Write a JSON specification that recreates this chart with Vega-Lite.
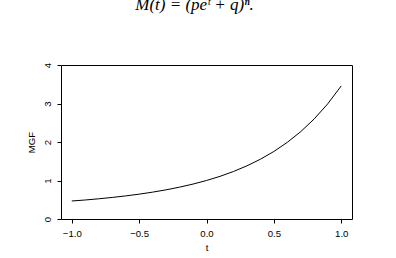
{
  "$schema": "https://vega.github.io/schema/vega-lite/v6.json",
  "autosize": "none",
  "width": 291,
  "height": 154,
  "padding": {"left": 61, "top": 65, "right": 44, "bottom": 39},
  "background": "white",
  "title": {
    "text": "M(t) = (peᵗ + q)ⁿ.",
    "font": "Liberation Serif",
    "fontStyle": "italic",
    "fontWeight": "normal",
    "fontSize": 17,
    "anchor": "middle",
    "frame": "group",
    "baseline": "alphabetic",
    "offset": 35,
    "dx": -12,
    "color": "black"
  },
  "config": {
    "view": {"stroke": "black", "strokeWidth": 1},
    "axis": {
      "domain": false,
      "grid": false,
      "tickColor": "black",
      "tickSize": 4,
      "tickWidth": 1,
      "labelFont": "Liberation Sans",
      "labelFontSize": 9.6,
      "labelColor": "black",
      "titleFont": "Liberation Sans",
      "titleFontSize": 9.6,
      "titleFontWeight": "normal",
      "titleColor": "black"
    }
  },
  "data": {
    "values": [
      {"t": -1.0, "MGF": 0.4678},
      {"t": -0.9, "MGF": 0.4939},
      {"t": -0.8, "MGF": 0.5251},
      {"t": -0.7, "MGF": 0.5599},
      {"t": -0.6, "MGF": 0.5997},
      {"t": -0.5, "MGF": 0.6452},
      {"t": -0.4, "MGF": 0.6975},
      {"t": -0.3, "MGF": 0.7576},
      {"t": -0.2, "MGF": 0.8269},
      {"t": -0.1, "MGF": 0.9071},
      {"t": 0.0, "MGF": 1.0},
      {"t": 0.1, "MGF": 1.1079},
      {"t": 0.2, "MGF": 1.2337},
      {"t": 0.3, "MGF": 1.3805},
      {"t": 0.4, "MGF": 1.5523},
      {"t": 0.5, "MGF": 1.7539},
      {"t": 0.6, "MGF": 1.9911},
      {"t": 0.7, "MGF": 2.2707},
      {"t": 0.8, "MGF": 2.601},
      {"t": 0.9, "MGF": 2.9922},
      {"t": 1.0, "MGF": 3.4564}
    ]
  },
  "mark": {"type": "line", "color": "black", "strokeWidth": 1},
  "encoding": {
    "x": {
      "field": "t",
      "type": "quantitative",
      "scale": {"domain": [-1.08, 1.08], "nice": false, "zero": false},
      "axis": {"values": [-1, -0.5, 0, 0.5, 1], "format": ".1f", "title": "t", "labelPadding": 5, "titlePadding": 5, "labelFlush": false}
    },
    "y": {
      "field": "MGF",
      "type": "quantitative",
      "scale": {"domain": [0, 4], "nice": false},
      "axis": {"values": [0, 1, 2, 3, 4], "format": "d", "title": "MGF", "labelAngle": -90, "labelPadding": 5, "titlePadding": 6, "labelFlush": false}
    }
  }
}
